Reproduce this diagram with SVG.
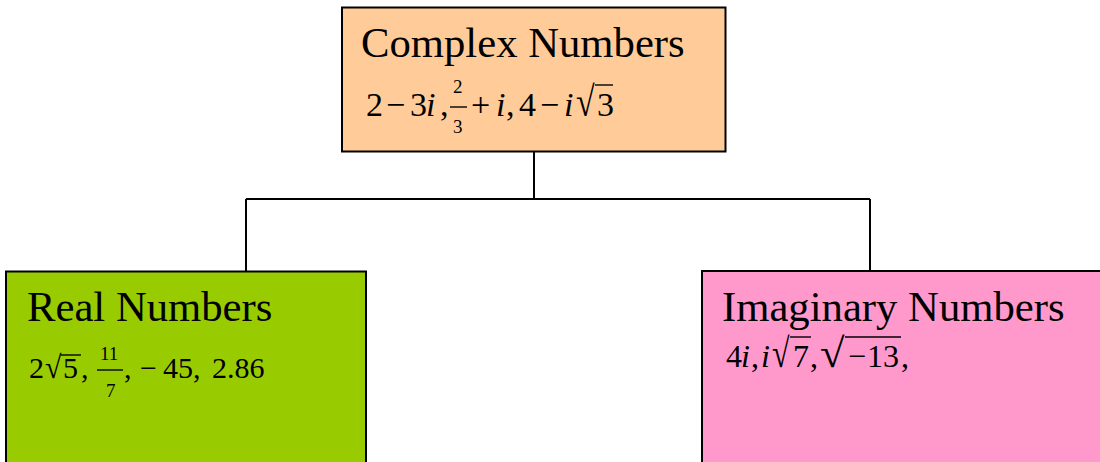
<svg xmlns="http://www.w3.org/2000/svg" width="1100" height="462" viewBox="0 0 1100 462">
<style>
.box{stroke:#000;stroke-width:2}
.title{font-family:"Liberation Serif","Times New Roman",serif;font-size:42.7px;fill:#000}
.m{font-family:"Liberation Serif","Times New Roman",serif;font-size:34px;fill:#000}
.g{font-family:"Liberation Serif","Times New Roman",serif;font-size:32px;fill:#000}
.r{font-family:"Liberation Serif","Times New Roman",serif;font-size:30px;fill:#000}
.f{font-family:"Liberation Serif","Times New Roman",serif;font-size:19px;fill:#000}
.it{font-style:italic}
.bar{stroke:#000;stroke-width:1.4;fill:none}
.conn{stroke:#000;stroke-width:2;fill:none}
</style>
<rect width="1100" height="462" fill="#fff"/>
<g id="connectors">
<path class="conn" d="M534 152 V199 M246 199 H870 M246 199 V271 M870 199 V271"/>
</g>
<g id="complex">
<rect class="box" x="342" y="7.5" width="383.5" height="144" fill="#FFCC99"/>
<text class="title" x="361" y="57">Complex Numbers</text>
<text class="m" x="366" y="116">2</text>
<text class="m" x="386" y="116">−</text>
<text class="m" x="410" y="116">3</text>
<text class="m it" x="426" y="116">i</text>
<text class="m" x="440" y="116">,</text>
<text class="f" x="453" y="93">2</text>
<line class="bar" x1="450" y1="107" x2="467" y2="107"/>
<text class="f" x="453" y="133">3</text>
<text class="m" x="471" y="116">+</text>
<text class="m it" x="496" y="116">i</text>
<text class="m" x="506" y="116">,</text>
<text class="m" x="519" y="116">4</text>
<text class="m" x="540" y="116">−</text>
<text class="m it" x="564" y="116">i</text>
<text class="m" transform="translate(576 116) scale(1 1.24)">√</text>
<line class="bar" x1="595" y1="85" x2="613" y2="85"/>
<text class="m" x="597" y="116">3</text>
</g>
<g id="real">
<rect class="box" x="6" y="271.5" width="360" height="200" fill="#99CC00"/>
<text class="title" x="27" y="321">Real Numbers</text>
<text class="r" x="29" y="378">2</text>
<text class="r" transform="translate(45 378) scale(1 1.06)">√</text>
<line class="bar" x1="61" y1="355" x2="81" y2="355"/>
<text class="r" x="63" y="378">5</text>
<text class="r" x="81" y="378">,</text>
<text class="f" x="100" y="360">11</text>
<line class="bar" x1="97" y1="370" x2="123" y2="370"/>
<text class="f" x="106" y="397">7</text>
<text class="r" x="124" y="378">,</text>
<text class="r" x="140" y="378">−</text>
<text class="r" x="163" y="378">45,</text>
<text class="r" x="212" y="378">2.86</text>
</g>
<g id="imaginary">
<rect class="box" x="702" y="271" width="410" height="200" fill="#FF99CC"/>
<text class="title" x="722" y="321">Imaginary Numbers</text>
<text class="g" x="726" y="367">4</text>
<text class="g it" x="741" y="367">i</text>
<text class="g" x="751" y="367">,</text>
<text class="g it" x="761" y="367">i</text>
<text class="g" transform="translate(772 367) scale(1 1.28)">√</text>
<line class="bar" x1="790" y1="337" x2="811" y2="337"/>
<text class="g" x="793" y="367">7</text>
<text class="g" x="810" y="367">,</text>
<text class="g" transform="translate(820 367) scale(1.4 1.28)">√</text>
<line class="bar" x1="845" y1="337" x2="901" y2="337"/>
<text class="g" x="848" y="367">−</text>
<text class="g" x="867" y="367">13</text>
<text class="g" x="901" y="367">,</text>
</g>
</svg>
